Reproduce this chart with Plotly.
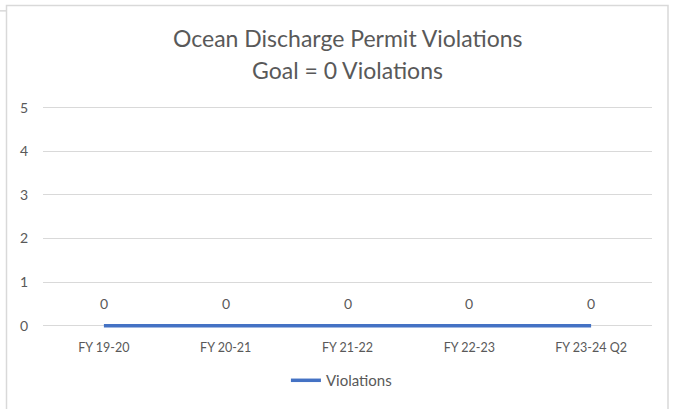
import plotly.graph_objects as go

categories = ["FY 19-20", "FY 20-21", "FY 21-22", "FY 22-23", "FY 23-24 Q2"]
violations = [0, 0, 0, 0, 0]
series_name = "Violations"
title_line1 = "Ocean Discharge Permit Violations"
title_line2 = "Goal = 0 Violations"

W, H = 673, 409
L, R, T = 43, 21, 106
B = 77
plot_h = H - T - B
plot_w = W - L - R

def py(pix):
    return (H - B - pix) / plot_h

def px(pix):
    return (pix - L) / plot_w

FONT = "Lato"
GRAY = "#595959"

fig = go.Figure()
fig.add_trace(go.Scatter(
    x=categories, y=violations, mode="lines", name=series_name,
    line=dict(color="#4472C4", width=3.5),
))

annotations = []
for c, v in zip(categories, violations):
    annotations.append(dict(x=c, y=v, xref="x", yref="y", text=str(v), showarrow=False,
                            yshift=22, font=dict(family=FONT, size=14, color=GRAY)))
annotations.append(dict(x=0.5, y=py(37), xref="paper", yref="paper", text=title_line1,
                        showarrow=False, xanchor="center", yanchor="middle",
                        font=dict(family=FONT, size=23, color=GRAY)))
annotations.append(dict(x=0.5, y=py(70), xref="paper", yref="paper", text=title_line2,
                        showarrow=False, xanchor="center", yanchor="middle",
                        font=dict(family=FONT, size=23, color=GRAY)))

fig.update_layout(
    width=W, height=H,
    margin=dict(l=L, r=R, t=T, b=B),
    paper_bgcolor="white", plot_bgcolor="white",
    showlegend=True,
    legend=dict(orientation="h", x=0.49, xanchor="center", y=py(383), yanchor="middle",
                font=dict(family=FONT, size=15, color=GRAY)),
    annotations=annotations,
    shapes=[
        dict(type="rect", xref="paper", yref="paper", x0=px(6.5), x1=px(668),
             y0=py(415), y1=py(4.5), line=dict(color="#d9d9d9", width=1.5), layer="below"),
        dict(type="line", xref="paper", yref="paper", x0=px(0), x1=px(6.5),
             y0=py(10), y1=py(10), line=dict(color="#d9d9d9", width=1.5), layer="below"),
    ],
)
fig.update_xaxes(type="category", range=[-0.5, 4.5], showgrid=False, showline=False,
                 zeroline=False, ticks="", ticklabelstandoff=8,
                 tickfont=dict(family=FONT, size=12.5, color=GRAY))
fig.update_yaxes(range=[-0.1, 5.04], tickvals=[0, 1, 2, 3, 4, 5], showgrid=True,
                 gridcolor="#d9d9d9", gridwidth=1, zeroline=False, showline=False,
                 ticks="", ticklabelstandoff=14,
                 tickfont=dict(family=FONT, size=14, color=GRAY))

fig.write_html("out.html", config={"displayModeBar": False},
               post_script="document.body.style.margin='0';")
